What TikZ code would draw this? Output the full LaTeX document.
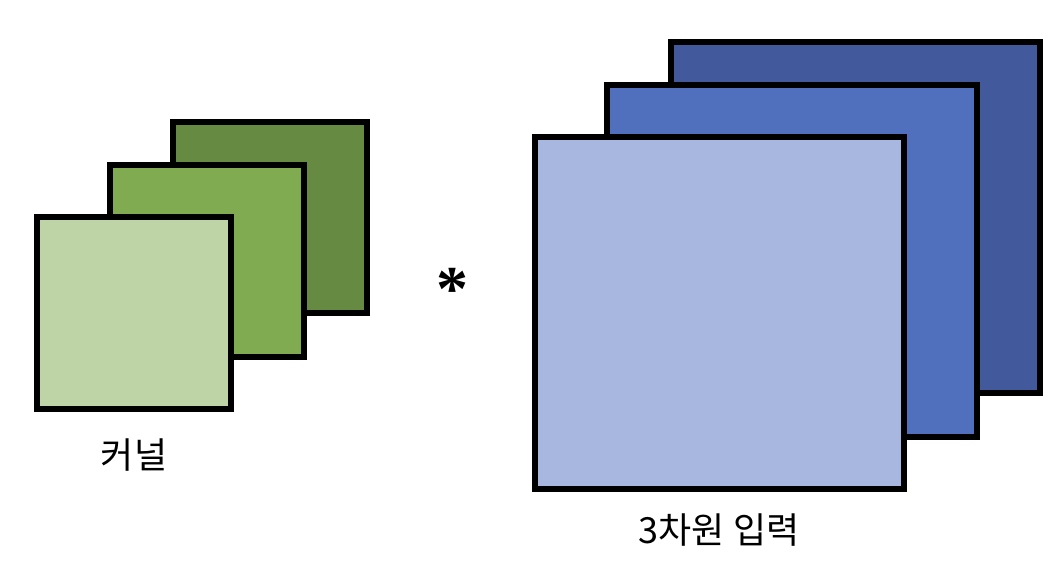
\documentclass[tikz,border=0pt]{standalone}
\usepackage{fontspec}
\newfontfamily\kr{Noto Sans CJK KR}
\newfontfamily\lserif{Liberation Serif}
\definecolor{gA}{HTML}{668A41}
\definecolor{gB}{HTML}{80AB50}
\definecolor{gC}{HTML}{BED4A6}
\definecolor{bA}{HTML}{42599B}
\definecolor{bB}{HTML}{5070BE}
\definecolor{bC}{HTML}{A8B7E0}
\tikzset{
  sheet/.style={draw=black, line width=6pt},
  lbl/.style={font=\kr\fontsize{36}{40}\selectfont, inner sep=0pt, anchor=center}
}
\begin{document}
\begin{tikzpicture}[x=1pt,y=-1pt]
\useasboundingbox (0,0) rectangle (1058,566);
% kernel
\filldraw[sheet, fill=gA] (173,122) rectangle (367,313);
\filldraw[sheet, fill=gB] (110,165) rectangle (304,357);
\filldraw[sheet, fill=gC] (37,217) rectangle (231,409);
% input
\filldraw[sheet, fill=bA] (671,42) rectangle (1040,393);
\filldraw[sheet, fill=bB] (607,85) rectangle (977,437);
\filldraw[sheet, fill=bC] (535,137) rectangle (904,489);
\node[lbl] (k) at (134,455) {커널};
\node[lbl] (i) at (719,530) {3차원 입력};
\node[inner sep=0pt, font=\lserif\bfseries\fontsize{64}{64}\selectfont] (ast) at (452,289) {*};
\end{tikzpicture}
\end{document}
